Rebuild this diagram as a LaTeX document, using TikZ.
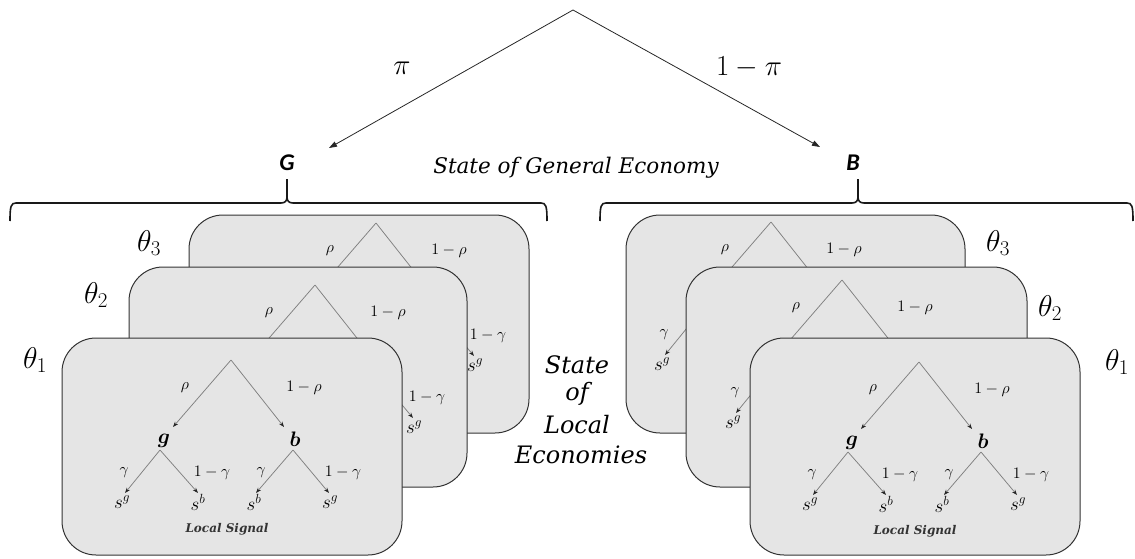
\RequirePackage{fix-cm}
\documentclass[tikz,border=0pt]{standalone}
\usepackage{amsmath}
\usepackage{fontspec}
\usetikzlibrary{arrows.meta}
\newfontfamily\serifit{DejaVu Serif}
\newfontfamily\sanslbl{Carlito}
\tikzset{
  x=1pt, y=-1pt,
  box/.style={draw=black!80, fill=black!10, line width=1pt, rounded corners=34pt},
  tline/.style={draw=black!50, line width=0.75pt, -{Stealth[length=5.5pt,width=4pt,black!85]}},
  topline/.style={draw=black!85, line width=0.8pt, -{Triangle[length=8pt,width=5.5pt]}},
  bracepath/.style={draw=black!90, line width=1.6pt},
  lbl/.style={inner sep=0pt, font=\fontsize{16}{16}\selectfont},
  nlbl/.style={inner sep=0pt, font=\fontsize{21}{21}\selectfont},
  slbl/.style={inner sep=0pt, font=\fontsize{19}{19}\selectfont},
  biglbl/.style={inner sep=0pt, font=\fontsize{30}{30}\selectfont},
  pilbl/.style={inner sep=0pt, font=\fontsize{29}{29}\selectfont},
  statelbl/.style={inner sep=0pt, font=\serifit\itshape\fontsize{21.5}{21.5}\selectfont},
  loclbl/.style={inner sep=0pt, font=\serifit\itshape\fontsize{24}{24}\selectfont},
  gblbl/.style={inner sep=0pt, font=\sanslbl\bfseries\itshape\fontsize{24}{24}\selectfont},
  siglbl/.style={inner sep=0pt, font=\serifit\itshape\bfseries\fontsize{12}{12}\selectfont, text=black!80},
}
% #1 name prefix, #2 apex, #3 visible labels: 1 = left side only, 2 = right side only, 3 = all
\newcommand\localtree[3]{%
  \begin{scope}[shift={#2}]
    \coordinate (#1a) at (0,0);
    \coordinate (#1gt) at (-58,67);
    \coordinate (#1bt) at (53,67);
    \coordinate (#1go) at (-71,90);
    \coordinate (#1bo) at (62,90);
    \coordinate (#1ggt) at (-106,133);
    \coordinate (#1gbt) at (-33,133);
    \coordinate (#1bbt) at (25,133);
    \coordinate (#1bgt) at (98,133);
    \draw[tline] (#1a) -- (#1gt);
    \draw[tline] (#1a) -- (#1bt);
    \draw[tline] (#1go) -- (#1ggt);
    \draw[tline] (#1go) -- (#1gbt);
    \draw[tline] (#1bo) -- (#1bbt);
    \draw[tline] (#1bo) -- (#1bgt);
    \node[lbl] (#1rho) at (-46,28) {$\rho$};
    \node[lbl] (#1nrho) at (73,28) {$1-\rho$};
    \ifnum#3=2\relax\else
      \node[lbl] (#1gam1) at (-107,113) {$\gamma$};
      \node[slbl] (#1sgg) at (-109,142) {$s^{g}$};
    \fi
    \ifnum#3=1\relax\else
      \node[lbl] (#1ngam2) at (112,113) {$1-\gamma$};
      \node[slbl] (#1sbg) at (99,142) {$s^{g}$};
    \fi
    \ifnum#3=3\relax
      \node[nlbl] (#1g) at (-67,81) {$\boldsymbol{g}$};
      \node[nlbl] (#1b) at (64,79) {$\boldsymbol{b}$};
      \node[lbl] (#1ngam1) at (-19,113) {$1-\gamma$};
      \node[lbl] (#1gam2) at (30,113) {$\gamma$};
      \node[slbl] (#1sgb) at (-33,142) {$s^{b}$};
      \node[slbl] (#1sbb) at (23,142) {$s^{b}$};
      \node[siglbl] (#1sig) at (-4,169) {Local Signal};
    \fi
  \end{scope}}
\begin{document}
\begin{tikzpicture}
  \useasboundingbox (0,0) rectangle (1135,559);
  % top split
  \coordinate (root) at (573,10);
  \coordinate (Gtip) at (329,148);
  \coordinate (Btip) at (820,147);
  \draw[topline] (root) -- (Gtip);
  \draw[topline] (root) -- (Btip);
  \node[pilbl] (pi) at (402,68) {$\pi$};
  \node[pilbl] (npi) at (749,67) {$1-\pi$};
  \node[gblbl] (G) at (287,163) {G};
  \node[gblbl] (B) at (853,163) {B};
  \node[statelbl] (sge) at (576,168) {State of General Economy};
  % braces
  \draw[bracepath] (10,221) .. controls (10,206) and (11,203) .. (16,203) -- (281,203)
     .. controls (285,203) and (287,201) .. (287,197) -- (287,179);
  \draw[bracepath] (287,197) .. controls (287,201) and (289,203) .. (293,203) -- (541,203)
     .. controls (546,203) and (547,206) .. (547,221);
  \draw[bracepath] (600,221) .. controls (600,206) and (601,203) .. (606,203) -- (852,203)
     .. controls (856,203) and (858,201) .. (858,197) -- (858,179);
  \draw[bracepath] (858,197) .. controls (858,201) and (860,203) .. (864,203) -- (1127,203)
     .. controls (1132,203) and (1133,206) .. (1133,221);
  % left stack
  \draw[box] (189,215) rectangle (529,433);
  \localtree{LA}{(376,223)}{2}
  \draw[box] (129,267) rectangle (467,487);
  \localtree{LB}{(315,285)}{2}
  \draw[box] (62,338) rectangle (402,555);
  \localtree{LC}{(231,360)}{3}
  % right stack
  \draw[box] (626,215) rectangle (965,433);
  \localtree{RA}{(771,222)}{1}
  \draw[box] (686,267) rectangle (1027,487);
  \localtree{RB}{(842,280)}{1}
  \draw[box] (750,338) rectangle (1080,555);
  \localtree{RC}{(919,362)}{3}
  % theta labels
  \node[biglbl] (tl3) at (149,243) {$\theta_3$};
  \node[biglbl] (tl2) at (96,295) {$\theta_2$};
  \node[biglbl] (tl1) at (35,360) {$\theta_1$};
  \node[biglbl] (tr3) at (998,243) {$\theta_3$};
  \node[biglbl] (tr2) at (1050,308) {$\theta_2$};
  \node[biglbl] (tr1) at (1117,362) {$\theta_1$};
  % local state text
  \node[loclbl] (sl1) at (577,365) {State};
  \node[loclbl] (sl2) at (577,394) {of};
  \node[loclbl] (sl3) at (577,425) {Local};
  \node[loclbl] (sl4) at (581,455) {Economies};
\end{tikzpicture}
\end{document}
